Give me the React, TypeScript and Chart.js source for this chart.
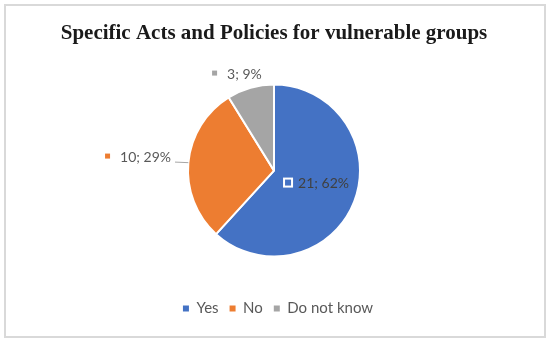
import React, { useEffect, useRef } from "react";
import { Chart, registerables } from "chart.js";

Chart.register(...registerables);

const categories = ["Yes", "No", "Do not know"];
const counts = [21, 10, 3];
const percents = ["62%", "29%", "9%"];
const colors = ["#4472C4", "#ED7D31", "#A5A5A5"];
const titleText = "Specific Acts and Policies for vulnerable groups";

// label placement style: radius factor, angle nudge (rad), inside flag
const labelPlacement = [
  { r: 0.508, nudge: -0.092, inside: true },
  { r: 1.59, nudge: 0.014, inside: false },
  { r: 1.213, nudge: -0.086, inside: false },
];

const framePlugin = {
  id: "frame",
  beforeDraw(chart: any) {
    const ctx = chart.ctx;
    ctx.save();
    ctx.fillStyle = "#ffffff";
    ctx.fillRect(0, 0, chart.width, chart.height);
    ctx.strokeStyle = "#d9d9d9";
    ctx.lineWidth = 2;
    ctx.strokeRect(5, 5, chart.width - 10, chart.height - 7);
    ctx.restore();
  },
};

const legendShift = {
  id: "legendShift",
  afterLayout(chart: any) {
    if (chart.legend) {
      chart.legend.left += 4;
      chart.legend.right += 4;
    }
  },
};

const labelPlugin = {
  id: "sliceLabels",
  afterDatasetsDraw(chart: any) {
    const ctx = chart.ctx;
    const meta = chart.getDatasetMeta(0);
    ctx.save();
    ctx.font = "14px Lato, 'Open Sans', sans-serif";
    ctx.textBaseline = "middle";
    meta.data.forEach((arc: any, i: number) => {
      const p = arc.getProps(["x", "y", "startAngle", "endAngle", "outerRadius"], true);
      const place = labelPlacement[i];
      const mid = (p.startAngle + p.endAngle) / 2 + place.nudge;
      const cx = p.x + Math.cos(mid) * p.outerRadius * place.r;
      const cy = p.y + Math.sin(mid) * p.outerRadius * place.r;
      const text = `${counts[i]}; ${percents[i]}`;
      const tw = ctx.measureText(text).width;
      const key = place.inside ? 10 : 5;
      const gap = place.inside ? 5 : 10;
      const total = key + gap + tw;
      const x0 = cx - total / 2;
      if (place.inside) {
        ctx.fillStyle = "#ffffff";
        ctx.fillRect(x0, cy - key / 2, key, key);
        ctx.fillStyle = colors[i];
        ctx.fillRect(x0 + 2, cy - key / 2 + 2, key - 4, key - 4);
      } else {
        ctx.fillStyle = colors[i];
        ctx.fillRect(x0, cy - key / 2, key, key);
      }
      ctx.fillStyle = place.inside ? "#404040" : "#595959";
      ctx.textAlign = "left";
      ctx.fillText(text, x0 + key + gap, cy + 1);
      if (!place.inside && Math.cos(mid) < -0.8) {
        const amid = (p.startAngle + p.endAngle) / 2;
        const ex = p.x + Math.cos(amid) * p.outerRadius;
        const ey = p.y + Math.sin(amid) * p.outerRadius;
        ctx.strokeStyle = "#a6a6a6";
        ctx.lineWidth = 1;
        ctx.beginPath();
        ctx.moveTo(x0 + total + 4, cy + 6);
        ctx.lineTo(ex, ey);
        ctx.stroke();
      }
    });
    ctx.restore();
  },
};

export default function App() {
  const ref = useRef<HTMLCanvasElement>(null);
  useEffect(() => {
    document.body.style.margin = "0";
    const chart = new Chart(ref.current!, {
      type: "pie",
      data: {
        labels: categories,
        datasets: [
          {
            data: counts,
            backgroundColor: colors,
            borderColor: "#ffffff",
            borderWidth: 2,
          },
        ],
      },
      options: {
        animation: false,
        responsive: false,
        radius: 86,
        layout: { padding: { top: 6, bottom: 13, left: 0, right: 2 } },
        plugins: {
          tooltip: { enabled: false },
          title: {
            display: true,
            text: titleText,
            color: "#1a1a1a",
            font: { family: "'Liberation Serif', serif", size: 21, weight: "bold" },
            padding: { top: 15, bottom: 5 },
          },
          legend: {
            position: "bottom",
            labels: {
              color: "#595959",
              font: { family: "Lato, 'Open Sans', sans-serif", size: 15 },
              boxWidth: 6,
              boxHeight: 6,
              padding: 11,
              generateLabels(chart: any) {
                const items = Chart.overrides.pie.plugins.legend.labels.generateLabels(chart);
                return items.map((it: any) => ({ ...it, lineWidth: 0, strokeStyle: it.fillStyle }));
              },
            },
          },
        },
      } as any,
      plugins: [framePlugin, legendShift, labelPlugin],
    });
    return () => chart.destroy();
  }, []);
  return <canvas ref={ref} width={550} height={339} style={{ display: "block" }} />;
}
